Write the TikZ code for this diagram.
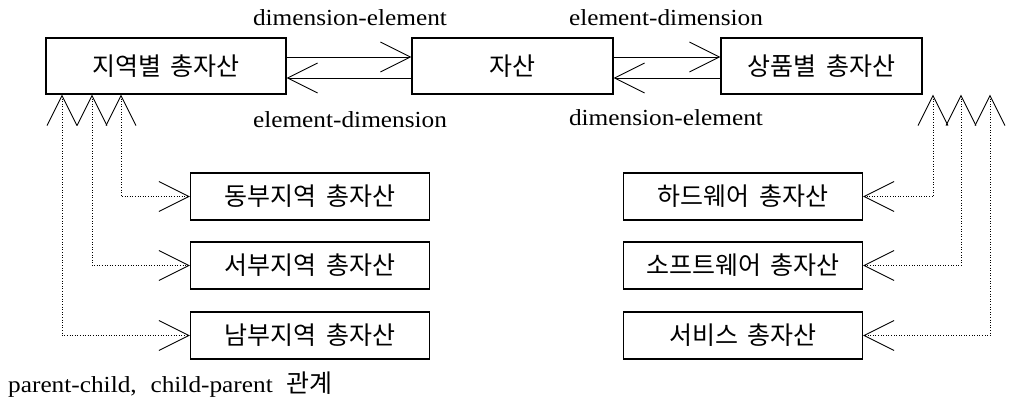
\documentclass[tikz,border=0pt]{standalone}
\usepackage{fontspec}
\setmainfont{Liberation Serif}[FakeStretch=1.1]
\newfontfamily\kor{Noto Sans CJK KR}
\usetikzlibrary{arrows.meta}
\newcommand{\ksp}{\hspace{0.4em}}
\begin{document}
\begin{tikzpicture}[x=1pt,y=-1pt,
  box/.style={draw,line width=1.1pt,rectangle,inner sep=0pt,font=\kor\fontsize{25}{28}\selectfont},
  bigbox/.style={box,minimum width=#1,minimum height=56pt},
  kid/.style={box,minimum width=239pt,minimum height=47pt},
  barb/.style={line width=0.9pt,-{Straight Barb[length=30pt,width=30pt,line width=0.9pt]}},
  link/.style={line width=0.6pt,dotted,{Straight Barb[length=30pt,width=30pt,line width=0.9pt]}-{Straight Barb[length=30pt,width=30pt,line width=0.9pt]}},
  lab/.style={font=\fontsize{23}{26}\selectfont,inner sep=0pt}]
\useasboundingbox (0,0) rectangle (1014,403);
% top boxes
\node[bigbox=240pt] (l) at (166,66) {지역별\ksp 총자산};
\node[bigbox=201pt] (m) at (512.5,66) {자산};
\node[bigbox=201pt] (r) at (821.5,66) {상품별\ksp 총자산};
% connectors between top boxes
\draw[barb] ([yshift=9pt]l.east) -- ([yshift=9pt]m.west);
\draw[barb] ([yshift=-12pt]m.west) -- ([yshift=-12pt]l.east);
\draw[barb] ([yshift=9pt]m.east) -- ([yshift=9pt]r.west);
\draw[barb] ([yshift=-12pt]r.west) -- ([yshift=-12pt]m.east);
\node[lab] (t1) at (350,18) {dimension-element};
\node[lab] (t2) at (350,120) {element-dimension};
\node[lab] (t3) at (666,18) {element-dimension};
\node[lab] (t4) at (666,118) {dimension-element};
% children left
\node[kid] (a1) at (310,196.5) {동부지역\ksp 총자산};
\node[kid] (a2) at (310,265.5) {서부지역\ksp 총자산};
\node[kid] (a3) at (310,335.5) {남부지역\ksp 총자산};
% children right
\node[kid] (b1) at (743,196.5) {하드웨어\ksp 총자산};
\node[kid] (b2) at (743,265.5) {소프트웨어\ksp 총자산};
\node[kid] (b3) at (743,335.5) {서비스\ksp 총자산};
% attachment points on parent bottoms
\coordinate (p1) at (l.south west -| 62,0);
\coordinate (p2) at (l.south west -| 92,0);
\coordinate (p3) at (l.south west -| 121,0);
\coordinate (q1) at (r.south west -| 933,0);
\coordinate (q2) at (r.south west -| 961,0);
\coordinate (q3) at (r.south west -| 990,0);
\draw[link] (p3) |- (a1.west);
\draw[link] (p2) |- (a2.west);
\draw[link] (p1) |- (a3.west);
\draw[link] (q1) |- (b1.east);
\draw[link] (q2) |- (b2.east);
\draw[link] (q3) |- (b3.east);
% caption
\node[anchor=west,inner sep=0pt,font=\fontsize{23}{26}\selectfont] (cap) at (8,385) {parent-child,\hspace{0.6em}child-parent\hspace{0.6em}{\kor\fontsize{25}{28}\selectfont 관계}};
\end{tikzpicture}
\end{document}
